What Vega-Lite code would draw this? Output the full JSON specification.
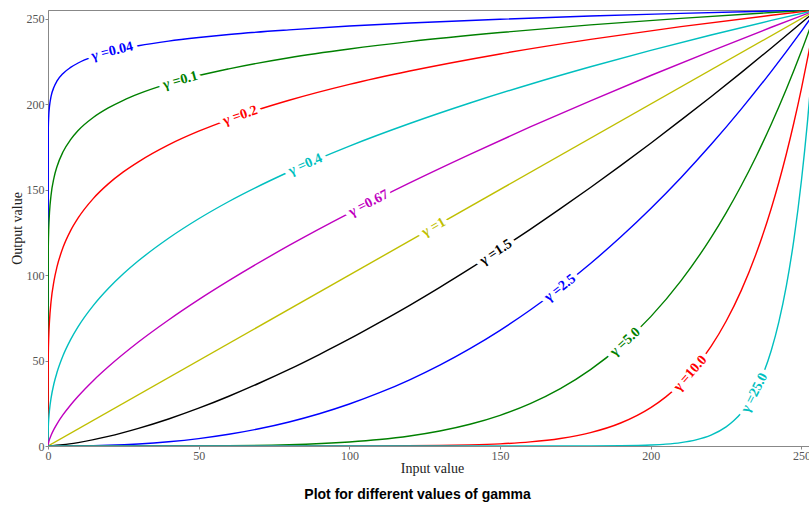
{
  "$schema": "https://vega.github.io/schema/vega-lite/v6.json",
  "width": 761,
  "height": 436,
  "autosize": {"type": "none"},
  "padding": {"left": 48, "top": 10, "right": 0, "bottom": 62},
  "background": "white",
  "title": {"text": "Plot for different values of gamma", "orient": "bottom", "anchor": "middle", "dx": -11, "offset": 13, "font": "Liberation Sans", "fontSize": 14, "fontWeight": "bold", "color": "#000000"},
  "config": {
    "view": {"stroke": "#888888", "strokeWidth": 1},
    "axis": {"grid": false, "domainColor": "#888888", "tickColor": "#888888", "tickSize": 3, "labelFont": "Liberation Serif", "labelFontSize": 12, "labelColor": "#555555", "labelFlush": false, "labelOverlap": false, "labelBound": false, "titleFont": "Liberation Serif", "titleFontSize": 14, "titleFontWeight": "normal", "titleColor": "#222222"}
  },
  "datasets": {
    "curves": [
      {"g":"0.04","x":0,"y":0},{"g":"0.04","x":0.1,"y":186.3},{"g":"0.04","x":0.25,"y":193.3},{"g":"0.04","x":0.5,"y":198.7},{"g":"0.04","x":1,"y":204.3},{"g":"0.04","x":2,"y":210.0},{"g":"0.04","x":3,"y":213.5},{"g":"0.04","x":5,"y":217.9},{"g":"0.04","x":7.5,"y":221.4},{"g":"0.04","x":10,"y":224.0},{"g":"0.04","x":15,"y":227.7},{"g":"0.04","x":20,"y":230.3},{"g":"0.04","x":25,"y":232.4},{"g":"0.04","x":30,"y":234.1},{"g":"0.04","x":40,"y":236.8},{"g":"0.04","x":50,"y":238.9},{"g":"0.04","x":60,"y":240.7},{"g":"0.04","x":80,"y":243.4},{"g":"0.04","x":100,"y":245.6},{"g":"0.04","x":120,"y":247.4},{"g":"0.04","x":150,"y":249.6},{"g":"0.04","x":180,"y":251.5},{"g":"0.04","x":210,"y":253.0},{"g":"0.04","x":240,"y":254.4},{"g":"0.04","x":255,"y":255},
      {"g":"0.1","x":0,"y":0},{"g":"0.1","x":0.1,"y":116.4},{"g":"0.1","x":0.25,"y":127.5},{"g":"0.1","x":0.5,"y":136.7},{"g":"0.1","x":1,"y":146.5},{"g":"0.1","x":2,"y":157.0},{"g":"0.1","x":3,"y":163.5},{"g":"0.1","x":5,"y":172.1},{"g":"0.1","x":7.5,"y":179.2},{"g":"0.1","x":10,"y":184.5},{"g":"0.1","x":15,"y":192.1},{"g":"0.1","x":20,"y":197.7},{"g":"0.1","x":25,"y":202.2},{"g":"0.1","x":30,"y":205.9},{"g":"0.1","x":40,"y":211.9},{"g":"0.1","x":50,"y":216.7},{"g":"0.1","x":60,"y":220.6},{"g":"0.1","x":80,"y":227.1},{"g":"0.1","x":100,"y":232.2},{"g":"0.1","x":120,"y":236.5},{"g":"0.1","x":150,"y":241.8},{"g":"0.1","x":180,"y":246.3},{"g":"0.1","x":210,"y":250.1},{"g":"0.1","x":240,"y":253.5},{"g":"0.1","x":255,"y":255},
      {"g":"0.2","x":0,"y":0},{"g":"0.2","x":0.1,"y":53.1},{"g":"0.2","x":0.25,"y":63.8},{"g":"0.2","x":0.5,"y":73.3},{"g":"0.2","x":1,"y":84.2},{"g":"0.2","x":2,"y":96.7},{"g":"0.2","x":3,"y":104.9},{"g":"0.2","x":5,"y":116.2},{"g":"0.2","x":7.5,"y":126.0},{"g":"0.2","x":10,"y":133.4},{"g":"0.2","x":15,"y":144.7},{"g":"0.2","x":20,"y":153.3},{"g":"0.2","x":25,"y":160.3},{"g":"0.2","x":30,"y":166.2},{"g":"0.2","x":40,"y":176.1},{"g":"0.2","x":50,"y":184.1},{"g":"0.2","x":60,"y":190.9},{"g":"0.2","x":80,"y":202.2},{"g":"0.2","x":100,"y":211.5},{"g":"0.2","x":120,"y":219.3},{"g":"0.2","x":150,"y":229.3},{"g":"0.2","x":180,"y":237.8},{"g":"0.2","x":210,"y":245.3},{"g":"0.2","x":240,"y":251.9},{"g":"0.2","x":255,"y":255},
      {"g":"0.4","x":0,"y":0},{"g":"0.4","x":0.1,"y":11.1},{"g":"0.4","x":0.25,"y":16.0},{"g":"0.4","x":0.5,"y":21.1},{"g":"0.4","x":1,"y":27.8},{"g":"0.4","x":2,"y":36.7},{"g":"0.4","x":3,"y":43.1},{"g":"0.4","x":5,"y":52.9},{"g":"0.4","x":7.5,"y":62.2},{"g":"0.4","x":10,"y":69.8},{"g":"0.4","x":15,"y":82.1},{"g":"0.4","x":20,"y":92.1},{"g":"0.4","x":25,"y":100.7},{"g":"0.4","x":30,"y":108.3},{"g":"0.4","x":40,"y":121.5},{"g":"0.4","x":50,"y":132.9},{"g":"0.4","x":60,"y":143.0},{"g":"0.4","x":80,"y":160.4},{"g":"0.4","x":100,"y":175.4},{"g":"0.4","x":120,"y":188.6},{"g":"0.4","x":140,"y":200.6},{"g":"0.4","x":160,"y":211.6},{"g":"0.4","x":180,"y":221.8},{"g":"0.4","x":200,"y":231.4},{"g":"0.4","x":220,"y":240.4},{"g":"0.4","x":240,"y":248.9},{"g":"0.4","x":255,"y":255},
      {"g":"0.67","x":0,"y":0},{"g":"0.67","x":0.25,"y":2.5},{"g":"0.67","x":0.5,"y":3.9},{"g":"0.67","x":1,"y":6.2},{"g":"0.67","x":2,"y":9.9},{"g":"0.67","x":3,"y":13.0},{"g":"0.67","x":5,"y":18.3},{"g":"0.67","x":7.5,"y":24.0},{"g":"0.67","x":10,"y":29.1},{"g":"0.67","x":15,"y":38.2},{"g":"0.67","x":20,"y":46.3},{"g":"0.67","x":30,"y":60.8},{"g":"0.67","x":40,"y":73.7},{"g":"0.67","x":50,"y":85.6},{"g":"0.67","x":60,"y":96.7},{"g":"0.67","x":80,"y":117.3},{"g":"0.67","x":100,"y":136.2},{"g":"0.67","x":120,"y":153.9},{"g":"0.67","x":140,"y":170.6},{"g":"0.67","x":160,"y":186.6},{"g":"0.67","x":180,"y":201.9},{"g":"0.67","x":200,"y":216.7},{"g":"0.67","x":220,"y":231.0},{"g":"0.67","x":240,"y":244.9},{"g":"0.67","x":255,"y":255},
      {"g":"1","x":0,"y":0},{"g":"1","x":255,"y":255},
      {"g":"1.5","x":0,"y":0},{"g":"1.5","x":5,"y":0.7},{"g":"1.5","x":10,"y":2.0},{"g":"1.5","x":20,"y":5.6},{"g":"1.5","x":30,"y":10.3},{"g":"1.5","x":40,"y":15.8},{"g":"1.5","x":50,"y":22.1},{"g":"1.5","x":60,"y":29.1},{"g":"1.5","x":70,"y":36.7},{"g":"1.5","x":80,"y":44.8},{"g":"1.5","x":90,"y":53.5},{"g":"1.5","x":100,"y":62.6},{"g":"1.5","x":110,"y":72.3},{"g":"1.5","x":120,"y":82.3},{"g":"1.5","x":130,"y":92.8},{"g":"1.5","x":140,"y":103.7},{"g":"1.5","x":150,"y":115.1},{"g":"1.5","x":160,"y":126.7},{"g":"1.5","x":170,"y":138.8},{"g":"1.5","x":180,"y":151.2},{"g":"1.5","x":190,"y":164.0},{"g":"1.5","x":200,"y":177.1},{"g":"1.5","x":210,"y":190.6},{"g":"1.5","x":220,"y":204.3},{"g":"1.5","x":230,"y":218.4},{"g":"1.5","x":240,"y":232.8},{"g":"1.5","x":250,"y":247.5},{"g":"1.5","x":255,"y":255},
      {"g":"2.5","x":0,"y":0},{"g":"2.5","x":10,"y":0.08},{"g":"2.5","x":20,"y":0.44},{"g":"2.5","x":30,"y":1.21},{"g":"2.5","x":40,"y":2.49},{"g":"2.5","x":50,"y":4.34},{"g":"2.5","x":60,"y":6.85},{"g":"2.5","x":70,"y":10.07},{"g":"2.5","x":80,"y":14.06},{"g":"2.5","x":90,"y":18.87},{"g":"2.5","x":100,"y":24.56},{"g":"2.5","x":110,"y":31.17},{"g":"2.5","x":120,"y":38.74},{"g":"2.5","x":130,"y":47.32},{"g":"2.5","x":140,"y":56.95},{"g":"2.5","x":150,"y":67.67},{"g":"2.5","x":160,"y":79.52},{"g":"2.5","x":170,"y":92.54},{"g":"2.5","x":180,"y":106.75},{"g":"2.5","x":190,"y":122.2},{"g":"2.5","x":200,"y":138.92},{"g":"2.5","x":210,"y":156.94},{"g":"2.5","x":220,"y":176.3},{"g":"2.5","x":230,"y":197.02},{"g":"2.5","x":240,"y":219.14},{"g":"2.5","x":250,"y":242.68},{"g":"2.5","x":255,"y":255},
      {"g":"5.0","x":0,"y":0},{"g":"5.0","x":50,"y":0.07},{"g":"5.0","x":80,"y":0.78},{"g":"5.0","x":100,"y":2.37},{"g":"5.0","x":110,"y":3.81},{"g":"5.0","x":120,"y":5.88},{"g":"5.0","x":130,"y":8.78},{"g":"5.0","x":140,"y":12.72},{"g":"5.0","x":150,"y":17.96},{"g":"5.0","x":160,"y":24.8},{"g":"5.0","x":170,"y":33.58},{"g":"5.0","x":180,"y":44.69},{"g":"5.0","x":190,"y":58.56},{"g":"5.0","x":200,"y":75.68},{"g":"5.0","x":210,"y":96.59},{"g":"5.0","x":220,"y":121.89},{"g":"5.0","x":225,"y":136.4},{"g":"5.0","x":230,"y":152.22},{"g":"5.0","x":235,"y":169.5},{"g":"5.0","x":240,"y":188.32},{"g":"5.0","x":245,"y":208.78},{"g":"5.0","x":250,"y":230.96},{"g":"5.0","x":255,"y":255},
      {"g":"10.0","x":0,"y":0},{"g":"10.0","x":100,"y":0.02},{"g":"10.0","x":130,"y":0.3},{"g":"10.0","x":140,"y":0.63},{"g":"10.0","x":150,"y":1.26},{"g":"10.0","x":160,"y":2.41},{"g":"10.0","x":170,"y":4.42},{"g":"10.0","x":180,"y":7.83},{"g":"10.0","x":190,"y":13.45},{"g":"10.0","x":200,"y":22.46},{"g":"10.0","x":205,"y":28.75},{"g":"10.0","x":210,"y":36.59},{"g":"10.0","x":215,"y":46.3},{"g":"10.0","x":220,"y":58.26},{"g":"10.0","x":225,"y":72.94},{"g":"10.0","x":230,"y":90.87},{"g":"10.0","x":235,"y":112.67},{"g":"10.0","x":240,"y":139.08},{"g":"10.0","x":242.5,"y":154.26},{"g":"10.0","x":245,"y":170.93},{"g":"10.0","x":247.5,"y":189.19},{"g":"10.0","x":250,"y":209.19},{"g":"10.0","x":252,"y":226.5},{"g":"10.0","x":255,"y":255},
      {"g":"25.0","x":0,"y":0},{"g":"25.0","x":180,"y":0.04},{"g":"25.0","x":190,"y":0.16},{"g":"25.0","x":200,"y":0.59},{"g":"25.0","x":205,"y":1.09},{"g":"25.0","x":210,"y":1.99},{"g":"25.0","x":215,"y":3.58},{"g":"25.0","x":220,"y":6.36},{"g":"25.0","x":225,"y":11.16},{"g":"25.0","x":227.5,"y":14.71},{"g":"25.0","x":230,"y":19.33},{"g":"25.0","x":232.5,"y":25.33},{"g":"25.0","x":235,"y":33.09},{"g":"25.0","x":237.5,"y":43.11},{"g":"25.0","x":240,"y":56.02},{"g":"25.0","x":242.5,"y":72.58},{"g":"25.0","x":245,"y":93.8},{"g":"25.0","x":247.5,"y":120.9},{"g":"25.0","x":250,"y":155.43},{"g":"25.0","x":252,"y":189.69},{"g":"25.0","x":253.5,"y":220.0},{"g":"25.0","x":255,"y":255}
    ],
    "labels": [
      {"g":"0.04","x":21.3,"y":230.9,"label":"γ =0.04"},
      {"g":"0.1","x":43.9,"y":213.9,"label":"γ =0.1"},
      {"g":"0.2","x":63.8,"y":193.3,"label":"γ =0.2"},
      {"g":"0.4","x":85.4,"y":164.6,"label":"γ =0.4"},
      {"g":"0.67","x":106.4,"y":142.0,"label":"γ =0.67"},
      {"g":"1","x":128,"y":128,"label":"γ =1"},
      {"g":"1.5","x":148.6,"y":113.4,"label":"γ =1.5"},
      {"g":"2.5","x":169.9,"y":92.4,"label":"γ =2.5"},
      {"g":"5.0","x":191.5,"y":60.9,"label":"γ =5.0"},
      {"g":"10.0","x":213.1,"y":42.4,"label":"γ =10.0"},
      {"g":"25.0","x":234.4,"y":31.1,"label":"γ =25.0"}
    ]
  },
  "encoding": {
    "x": {"field": "x", "type": "quantitative", "scale": {"domain": [0, 252.5], "nice": false, "zero": false},
          "axis": {"title": "Input value", "values": [0, 50, 100, 150, 200, 250], "labelPadding": 1, "titleX": 384, "titleY": 15}},
    "y": {"field": "y", "type": "quantitative", "scale": {"domain": [0, 255], "nice": false},
          "axis": {"title": "Output value", "values": [0, 50, 100, 150, 200, 250], "labelPadding": 1, "titleX": -24}}
  },
  "layer": [
    {
      "data": {"name": "curves"},
      "mark": {"type": "line", "clip": true, "strokeWidth": 1.4, "interpolate": "monotone"},
      "encoding": {
        "color": {"field": "g", "type": "nominal", "legend": null,
                  "scale": {"domain": ["0.04","0.1","0.2","0.4","0.67","1","1.5","2.5","5.0","10.0","25.0"],
                            "range": ["#0000ff","#008000","#ff0000","#00bfbf","#bf00bf","#bfbf00","#000000","#0000ff","#008000","#ff0000","#00bfbf"]}}
      }
    },
    {
      "data": {"name": "labels"},
      "mark": {"type": "text", "font": "Liberation Serif", "fontSize": 14, "fontWeight": "bold", "align": "center", "baseline": "middle", "fill": "white", "stroke": "white", "strokeWidth": 9, "strokeJoin": "round"},
      "encoding": {
        "text": {"field": "label"},
        "angle": {"field": "g", "type": "nominal", "legend": null,
                  "scale": {"type": "ordinal", "domain": ["0.04","0.1","0.2","0.4","0.67","1","1.5","2.5","5.0","10.0","25.0"],
                            "range": [-14, -15.5, -19, -23.7, -27, -29.6, -33.1, -37.7, -42.1, -48.6, -63]}}
      }
    },
    {
      "data": {"name": "labels"},
      "mark": {"type": "text", "font": "Liberation Serif", "fontSize": 14, "fontWeight": "bold", "align": "center", "baseline": "middle"},
      "encoding": {
        "text": {"field": "label"},
        "color": {"field": "g", "type": "nominal", "legend": null},
        "angle": {"field": "g", "type": "nominal", "legend": null,
                  "scale": {"type": "ordinal", "domain": ["0.04","0.1","0.2","0.4","0.67","1","1.5","2.5","5.0","10.0","25.0"],
                            "range": [-14, -15.5, -19, -23.7, -27, -29.6, -33.1, -37.7, -42.1, -48.6, -63]}}
      }
    }
  ]
}
